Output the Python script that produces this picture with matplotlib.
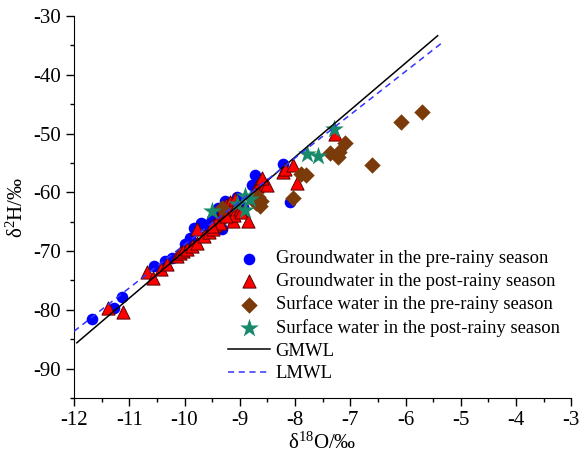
import numpy as np
import matplotlib.pyplot as plt
from matplotlib.ticker import MultipleLocator

plt.rcParams['font.family'] = ['Liberation Serif', 'DejaVu Serif']
plt.rcParams['mathtext.fontset'] = 'stix'
plt.rcParams['axes.unicode_minus'] = False

# groundwater, pre-rainy season (d18O, d2H)
gw_pre_x = [-11.67, -11.28, -11.13, -10.55, -10.35, -10.22, -9.99, -9.90, -9.83, -9.63,
            -9.50, -9.32, -9.38, -9.26, -9.12, -9.05, -8.95, -8.78, -8.72, -8.21,
            -8.09, -9.40, -9.70]
gw_pre_y = [-81.6, -79.7, -77.8, -72.6, -71.7, -71.2, -68.8, -67.8, -66.1, -65.6,
            -64.5, -66.2, -63.5, -61.5, -61.7, -60.8, -62.5, -58.8, -57.1, -55.1,
            -61.6, -62.6, -65.2]

# groundwater, post-rainy season
gw_post_x = [-11.38, -11.11, -10.68, -10.57, -10.42, -10.32, -10.14, -10.08, -10.03, -9.95,
             -9.86, -9.78, -9.77, -9.65, -9.55, -9.48, -9.45, -9.42, -9.38, -9.30,
             -9.28, -9.25, -9.20, -9.18, -9.15, -9.12, -9.10, -9.08, -9.05, -9.00,
             -8.97, -8.85, -8.68, -8.63, -8.55, -8.50, -8.60, -8.22, -8.18, -8.04,
             -7.97, -7.27, -9.35, -9.50, -9.25]
gw_post_y = [-79.7, -80.3, -73.5, -74.6, -73.0, -72.2, -70.8, -70.4, -70.0, -69.6,
             -69.2, -68.6, -66.2, -67.4, -66.8, -66.2, -65.5, -64.8, -64.2, -63.6,
             -62.8, -62.2, -63.2, -61.6, -62.6, -64.9, -63.8, -61.2, -62.0, -62.8,
             -63.4, -64.9, -59.0, -58.2, -58.5, -58.8, -57.6, -56.5, -56.0, -55.4,
             -58.4, -50.0, -65.2, -65.8, -64.0]

# surface water, pre-rainy season
sw_pre_x = [-5.71, -6.09, -6.60, -7.09, -7.20, -7.36, -7.22, -7.80, -7.90, -8.03,
            -8.67, -8.63, -8.70, -9.32, -8.62]
sw_pre_y = [-46.3, -48.1, -55.3, -51.6, -53.2, -53.3, -54.0, -57.0, -56.9, -61.0,
            -60.8, -62.4, -61.8, -62.7, -61.5]

# surface water, post-rainy season
sw_post_x = [-7.30, -7.78, -7.58, -8.82, -8.90, -8.90, -9.50, -9.05]
sw_post_y = [-49.2, -53.5, -53.8, -61.2, -60.6, -63.0, -63.2, -62.0]

# meteoric water lines: d2H = a * d18O + b
gmwl_x = [-11.95, -5.42]
gmwl_a, gmwl_b = 8.0, 10.0
lmwl_x = [-12.0, -5.35]
lmwl_a, lmwl_b = 7.37, 4.8

fig = plt.figure(figsize=(5.83, 4.57), dpi=100)
ax = fig.add_axes([0.127, 0.129, 0.853, 0.836])

ax.scatter(gw_pre_x, gw_pre_y, s=70, marker='o', color='#0000FF', linewidths=0,
           label='Groundwater in the pre-rainy season', zorder=3)
ax.scatter(gw_post_x, gw_post_y, s=90, marker='^', color='#FF0000', edgecolors='#5a0000',
           linewidths=0.7, label='Groundwater in the post-rainy season', zorder=3)
ax.scatter(sw_pre_x, sw_pre_y, s=70, marker='D', color='#7B3A0A', linewidths=0,
           label='Surface water in the pre-rainy season', zorder=3)
ax.scatter(sw_post_x, sw_post_y, s=200, marker='*', color='#18896A', linewidths=0,
           label='Surface water in the post-rainy season', zorder=3)

gx = np.array(gmwl_x)
lx = np.array(lmwl_x)
ax.plot(gx, gmwl_a * gx + gmwl_b, color='black', lw=1.1, label='GMWL', zorder=4)
ax.plot(lx, lmwl_a * lx + lmwl_b, color='#3333FF', lw=1.1, ls=(0, (4, 3)),
        label='LMWL', zorder=4)

ax.set_xlim(-12, -3)
ax.set_ylim(-95, -30)
ax.xaxis.set_major_locator(MultipleLocator(1))
ax.xaxis.set_minor_locator(MultipleLocator(0.5))
ax.yaxis.set_major_locator(MultipleLocator(10))
ax.yaxis.set_minor_locator(MultipleLocator(5))
ax.spines['top'].set_visible(False)
ax.spines['right'].set_visible(False)
ax.tick_params(which='major', direction='out', length=6, width=1, labelsize=15)
ax.tick_params(which='minor', direction='out', length=3, width=1)

ax.set_xlabel(r'$\mathregular{\delta^{18}O/‰}$', fontsize=15, labelpad=2)
ax.set_ylabel(r'$\mathregular{\delta^{2}H/‰}$', fontsize=15, labelpad=4)

ax.legend(loc='upper left', bbox_to_anchor=(0.295, 0.406), frameon=False, fontsize=13.4,
          handlelength=2.25, handletextpad=0.3, labelspacing=0.3, borderaxespad=0,
          scatterpoints=1)

fig.savefig('out.png', dpi=100)
